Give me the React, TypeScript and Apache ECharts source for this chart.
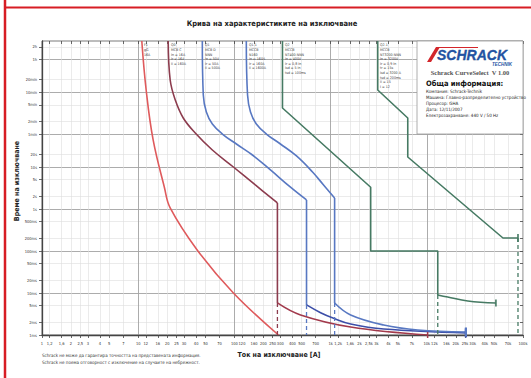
import React, { useEffect, useRef } from "react";
import * as echarts from "echarts";

// ---------- axis ticks ----------
const xTickValues = [
  1, 1.2, 1.6, 2, 2.5, 3, 4, 5, 7,
  10, 12, 16, 20, 25, 30, 40, 50, 70,
  100, 120, 160, 200, 250, 300, 400, 500, 700,
  1000, 1200, 1600, 2000, 2500, 3000, 4000, 5000, 7000,
  10000, 12000, 16000, 20000, 25000, 30000, 40000, 50000, 70000,
  100000,
];
const xTickLabels = [
  "1", "1,2", "1,6", "2", "2,5", "3", "4", "5", "7",
  "10", "12", "16", "20", "25", "30", "40", "50", "70",
  "100", "120", "160", "200", "250", "300", "400", "500", "700",
  "1k", "1,2k", "1,6k", "2k", "2,5k", "3k", "4k", "5k", "7k",
  "10k", "12k", "16k", "20k", "25k", "30k", "40k", "50k", "70k",
  "100k",
];
const xMajorValues = [10, 100, 1000, 10000];

const yTickValues = [
  7200, 3600, 1200, 600, 300, 120, 60, 20, 10, 5, 2, 1,
  0.5, 0.2, 0.1, 0.05, 0.02, 0.01, 0.005, 0.002, 0.001,
];
const yTickLabels = [
  "2h", "1h", "20min", "10min", "5min", "2min", "1min", "20s", "10s", "5s", "2s", "1s",
  "500ms", "200ms", "100ms", "50ms", "20ms", "10ms", "5ms", "2ms", "1ms",
];
const yMajorValues = [3600, 600, 60, 10, 1, 0.1, 0.01];

// ---------- curves: [current A, time s] ----------
const f1Curve = [[10.9, 10000], [12.1, 681], [14.3, 44], [18.7, 3.3], [21.5, 1.06], [41, 0.106], [97.6, 0.01], [287, 0.001]];

const q0Upper = [[20.5, 10000], [21.5, 1178], [24.3, 393], [29.4, 147], [39.2, 64.6], [59, 25.4], [97.6, 10], [165, 3.73], [280, 1.39]];
const q0Vertical = [[280, 1.39], [280, 0.0058]];
const q0Lower = [[280, 0.0058], [487, 0.003], [1616, 0.00155], [10200, 0.001]];
const q0Dashed = [[280, 0.0058], [280, 0.001]];

const q1Upper = [[46.4, 10000], [47.5, 518], [51.1, 204], [59, 106], [75, 61], [105, 35.3], [154, 19.3], [237, 8.5], [383, 3.3], [562, 1.64]];
const q1Vertical = [[562, 1.64], [562, 0.0052]];
const q1Lower = [[562, 0.0052], [787, 0.0034], [1075, 0.0025], [1616, 0.00183], [3565, 0.00139], [25500, 0.00112]];
const q1Dashed = [[562, 0.0052], [562, 0.001]];

const q11Upper = [[133, 10000], [137, 518], [147, 204], [169, 106], [215, 61], [301, 35.3], [442, 18.3], [649, 7.6], [845, 3.73], [1101, 1.83]];
const q11Vertical = [[1101, 1.83], [1101, 0.00578]];
const q11Lower = [[1101, 0.00578], [1616, 0.003], [3565, 0.00173], [8050, 0.00132], [25500, 0.00118]];
const q11Dashed = [[1101, 0.00578], [1101, 0.001]];

const q2Line = [[316, 10000], [316, 254], [2610, 3.3], [2610, 0.1], [13000, 0.1], [13000, 0.00896]];
const q2Lower = [[13000, 0.00896], [16500, 0.008], [26700, 0.00646], [52300, 0.00578]];
const q2Dashed = [[13000, 0.00896], [13000, 0.001]];

const q21Line = [[3090, 10000], [3090, 681], [6340, 147], [6340, 17.3], [61900, 0.204], [88700, 0.204]];
const q21Dashed = [[88700, 0.204], [88700, 0.001]];

// ---------- texts ----------
const titleText = "Крива на характеристиките на изключване";
const xName = "Ток на изключване [А]";
const yName = "Време на изключване";
const footnotes = [
  "Schrack не може да гарантира точността на представената информация.",
  "Schrack не поема отговорност с изключение на случаите на небрежност.",
];
const infoHeader = "Обща информация:";
const infoLines = [
  "Компания: Schrack-Technik",
  "Машина: Главно-разпределително устройство",
  "Процесор: GHA",
  "Дата: 12/11/2007",
  "Електрозахранване: 440 V / 50 Hz",
];
const curveLabels = [
  { x: 144, text: "F1\ngG\n16A" },
  { x: 171, text: "Q0\nMCB C\nIn = 16A\nIr = 16A\nIi = 160A" },
  { x: 205, text: "Q1\nMCB D\nNNN\nIn = 50A\nIr = 50A\nIi = 500A" },
  { x: 249, text: "Q1.1\nMCCB\nN160\nIn = 160A\nIr = 160A\nIi = 1600A" },
  { x: 285, text: "Q2\nMCCB\nNT400-NNN\nIn = 400A\nIr = 0,8 In\nIsd = 5 In\ntsd = 100ms" },
  { x: 380, text: "Q2.1\nMCCB\nNT3200-NNN\nIn = 3200A\nIr = 0,9 In\ntr = 15s\nIsd = 3200 A\ntsd = 200ms\nIi = 15\nI = 12" },
];

const FONT = "'Liberation Sans Narrow', 'Arial Narrow', 'DejaVu Sans Condensed', sans-serif";
const RED = "#df5a5c";
const BROWN = "#8c3c4e";
const BROWN2 = "#a23a4c";
const BLUE = "#5878c2";
const BLUE2 = "#3c4ea8";
const GREEN = "#467a63";

const fmt = (vals: number[], labels: string[]) => (v: number) => {
  for (let i = 0; i < vals.length; i++) {
    if (Math.abs(Math.log10(v / vals[i])) < 1e-4) return labels[i];
  }
  return "";
};

const endTick = (data: number[][], size: number[]) =>
  data.map((d, i) => (i === data.length - 1 ? { value: d, symbol: "rect", symbolSize: size } : { value: d }));

const line = (data: any[], color: string, extra: any = {}) => ({
  type: "line",
  data,
  xAxisIndex: 0,
  yAxisIndex: 0,
  symbol: "none",
  smooth: false,
  silent: true,
  z: 3,
  lineStyle: { color, width: 1.6, ...(extra.lineStyle || {}) },
  itemStyle: { color },
  ...extra.rest,
});

const dashed = (data: any[], color: string) =>
  line(data, color, { lineStyle: { type: [4, 3], width: 1.3 } });

export default function App() {
  const ref = useRef<HTMLDivElement>(null);
  useEffect(() => {
    const chart = echarts.init(ref.current!, null, { renderer: "svg" });
    const xBase = { type: "log", logBase: 10, min: 1, max: 100000, gridIndex: 0 };
    const yBase = { type: "log", logBase: 10, min: 0.001, max: 10000, gridIndex: 0 };
    const option: any = {
      animation: false,
      backgroundColor: "#ffffff",
      grid: { left: 42, top: 41, right: 8, bottom: 43, show: true, borderColor: "#7a7a7a", borderWidth: 1, backgroundColor: "transparent" },
      xAxis: [
        {
          ...xBase,
          axisLine: { show: true, lineStyle: { color: "#444", width: 1.3 } },
          axisTick: { show: true, inside: false, length: 3, customValues: xTickValues, lineStyle: { color: "#444", width: 0.8 } },
          axisLabel: { show: true, customValues: xTickValues, formatter: fmt(xTickValues, xTickLabels), fontSize: 4, color: "#333", margin: 6, fontFamily: FONT },
          splitLine: { show: true, lineStyle: { color: "#dedede", width: 0.6 } },
          minorTick: { show: false },
          minorSplitLine: { show: false },
        },
        {
          ...xBase,
          axisLine: { show: false },
          axisLabel: { show: false },
          axisTick: { show: false, customValues: xMajorValues },
          splitLine: { show: true, lineStyle: { color: "#9c9c9c", width: 0.8 } },
        },
        {
          ...xBase,
          axisLine: { show: false },
          axisLabel: { show: false },
          axisTick: { show: true, inside: true, length: 3, customValues: xTickValues, lineStyle: { color: "#444", width: 0.8 } },
          splitLine: { show: false },
        },
      ],
      yAxis: [
        {
          ...yBase,
          axisLine: { show: true, lineStyle: { color: "#444", width: 1.3 } },
          axisTick: { show: true, inside: false, length: 3, customValues: yTickValues, lineStyle: { color: "#444", width: 0.8 } },
          axisLabel: { show: true, customValues: yTickValues, formatter: fmt(yTickValues, yTickLabels), fontSize: 4, color: "#333", margin: 5, fontFamily: FONT },
          splitLine: { show: true, lineStyle: { color: "#dedede", width: 0.6 } },
          minorTick: { show: false },
          minorSplitLine: { show: false },
        },
        {
          ...yBase,
          axisLine: { show: false },
          axisLabel: { show: false },
          axisTick: { show: false, customValues: yMajorValues },
          splitLine: { show: true, lineStyle: { color: "#9c9c9c", width: 0.8 } },
        },
        {
          ...yBase,
          axisLine: { show: false },
          axisLabel: { show: false },
          axisTick: { show: true, inside: true, length: 3, customValues: yTickValues, lineStyle: { color: "#444", width: 0.8 } },
          splitLine: { show: false },
        },
      ],
      series: [
        line(f1Curve, RED, { rest: { smooth: 0.4 } }),
        line(q0Upper, BROWN, { rest: { smooth: 0.4 } }),
        line(q0Vertical, BROWN),
        line(endTick(q0Lower, [1.5, 6]), BROWN2, { rest: { smooth: 0.4 } }),
        dashed(q0Dashed, BROWN),
        line(q1Upper, BLUE, { rest: { smooth: 0.4 } }),
        line(q1Vertical, BLUE),
        line(endTick(q1Lower, [2.2, 9]), BLUE2, { rest: { smooth: 0.4 } }),
        dashed(q1Dashed, BLUE),
        line(q11Upper, BLUE, { rest: { smooth: 0.4 } }),
        line(q11Vertical, BLUE),
        line(endTick(q11Lower, [2.2, 9]), BLUE, { rest: { smooth: 0.4 } }),
        dashed(q11Dashed, BLUE),
        line(q2Line, GREEN),
        line(endTick(q2Lower, [1.6, 7]), GREEN, { rest: { smooth: 0.4 } }),
        dashed(q2Dashed, GREEN),
        line(endTick(q21Line, [1.6, 8]), GREEN),
        dashed(q21Dashed, GREEN),
      ],
      graphic: [
        { type: "line", z: 100, shape: { x1: 5, y1: 0, x2: 5, y2: 378 }, style: { stroke: "#d71d24", lineWidth: 2.5 } },
        { type: "line", z: 100, shape: { x1: 4, y1: 7.5, x2: 531, y2: 7.5 }, style: { stroke: "#d71d24", lineWidth: 2 } },
        { type: "text", z: 100, x: 272, y: 23, style: { text: titleText, fontSize: 7.5, fontWeight: "bold", fontFamily: FONT, fill: "#222", align: "center", verticalAlign: "middle" } },
        { type: "text", z: 100, x: 279, y: 355, style: { text: xName, fontSize: 7, fontWeight: "bold", fontFamily: FONT, fill: "#222", align: "center", verticalAlign: "middle" } },
        { type: "text", z: 100, x: 17, y: 181, rotation: Math.PI / 2, style: { text: yName, fontSize: 7, fontWeight: "bold", fontFamily: FONT, fill: "#222", align: "center", verticalAlign: "middle" } },
        ...footnotes.map((t, i) => ({ type: "text", z: 100, x: 42, y: 355 + i * 7, style: { text: t, fontSize: 4.5, fontFamily: FONT, fill: "#333", align: "left", verticalAlign: "middle" } })),
        ...curveLabels.map((c) => ({ type: "text", z: 100, x: c.x, y: 43, style: { text: c.text, fontSize: 3.6, lineHeight: 4.6, fontFamily: FONT, fill: "#444", align: "left", verticalAlign: "top" } })),
        // info box
        { type: "rect", z: 90, shape: { x: 417, y: 41, width: 106, height: 93 }, style: { fill: "#ffffff", stroke: "#9a9a9a", lineWidth: 0.8 } },
        { type: "polygon", z: 100, shape: { points: [[427, 62], [436, 47], [440, 47], [431, 62]] }, style: { fill: "#d3262b" } },
        { type: "line", z: 100, shape: { x1: 437, y1: 47.5, x2: 478, y2: 47.5 }, style: { stroke: "#d3262b", lineWidth: 1 } },
        { type: "text", z: 100, x: 472, y: 55, style: { text: "SCHRACK", fontSize: 14, fontWeight: "bold", fontStyle: "italic", fontFamily: "'Liberation Sans', Arial, sans-serif", fill: "#2353a3", stroke: "#1a3f80", lineWidth: 0.3, align: "center", verticalAlign: "middle" } },
        { type: "text", z: 100, x: 512, y: 64.5, style: { text: "TECHNIK", fontSize: 4.5, fontWeight: "bold", fontStyle: "italic", fontFamily: "'Liberation Sans', Arial, sans-serif", fill: "#2353a3", align: "right", verticalAlign: "middle" } },
        { type: "text", z: 100, x: 470, y: 72, style: { text: "Schrack CurveSelect  V 1.00", fontSize: 6.5, fontWeight: "bold", fontFamily: "'Liberation Serif', 'DejaVu Serif', serif", fill: "#555", align: "center", verticalAlign: "middle" } },
        { type: "text", z: 100, x: 426, y: 83, style: { text: infoHeader, fontSize: 7.5, fontWeight: "bold", fontFamily: FONT, fill: "#111", align: "left", verticalAlign: "middle" } },
        ...infoLines.map((t, i) => ({ type: "text", z: 100, x: 426, y: 91 + i * 6, style: { text: t, fontSize: 4.5, fontFamily: FONT, fill: "#222", align: "left", verticalAlign: "middle" } })),
      ],
    };
    chart.setOption(option);
    return () => chart.dispose();
  }, []);
  return <div ref={ref} style={{ position: "fixed", left: 0, top: 0, width: 531, height: 378, background: "#fff" }} />;
}
